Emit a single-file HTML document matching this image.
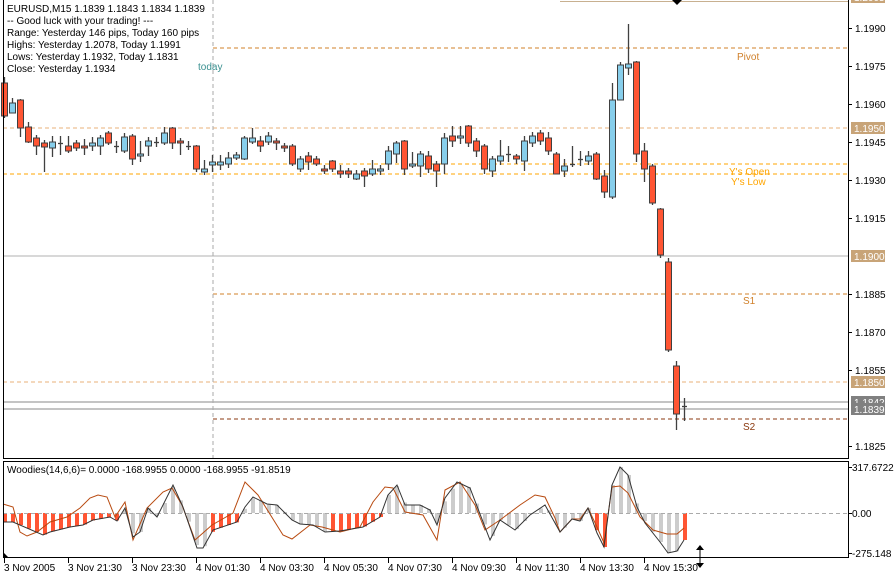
<!DOCTYPE html>
<html><head><meta charset="utf-8"><style>
body{margin:0;background:#fff;}
svg text{font-family:"Liberation Sans",sans-serif;font-size:10px;}
</style></head><body>
<svg id="s" width="894" height="574" xmlns="http://www.w3.org/2000/svg">
<rect width="894" height="574" fill="#fff"/>
<line x1="213" y1="48" x2="848" y2="48" stroke="#d0802a" stroke-dasharray="4,3"/>
<line x1="3" y1="128" x2="848" y2="128" stroke="#e8b07a" stroke-dasharray="4,3"/>
<line x1="213" y1="164" x2="848" y2="164" stroke="#ffa500" stroke-dasharray="4,3"/>
<line x1="3" y1="174" x2="848" y2="174" stroke="#ffa500" stroke-dasharray="4,3"/>
<line x1="3" y1="256" x2="848" y2="256" stroke="#b0b0b0"/>
<line x1="213" y1="294" x2="848" y2="294" stroke="#d0802a" stroke-dasharray="4,3"/>
<line x1="3" y1="382" x2="848" y2="382" stroke="#e8b07a" stroke-dasharray="4,3"/>
<line x1="3" y1="402" x2="848" y2="402" stroke="#888"/>
<line x1="3" y1="409" x2="848" y2="409" stroke="#888"/>
<line x1="213" y1="419" x2="848" y2="419" stroke="#8b3a10" stroke-dasharray="4,3"/>
<line x1="213" y1="0" x2="213" y2="458" stroke="#aaa" stroke-dasharray="4,3"/>
<text x="198" y="70" fill="#3a9090">today</text>
<text x="737" y="60" fill="#d0802a">Pivot</text>
<text x="729" y="175" fill="#ffa500">Y's Open</text>
<text x="731" y="185" fill="#ffa500">Y's Low</text>
<text x="743" y="304" fill="#d0802a">S1</text>
<text x="743" y="430" fill="#8b3a10">S2</text>
<g id="candles"></g>
<g id="ind"></g>
<text x="7" y="12" fill="#000">EURUSD,M15  1.1839 1.1843 1.1834 1.1839</text>
<text x="7" y="24" fill="#000">-- Good luck with your trading! ---</text>
<text x="7" y="36" fill="#000">Range: Yesterday 146 pips, Today 160 pips</text>
<text x="7" y="48" fill="#000">Highs: Yesterday 1.2078, Today 1.1991</text>
<text x="7" y="60" fill="#000">Lows:  Yesterday 1.1932, Today 1.1831</text>
<text x="7" y="72" fill="#000">Close: Yesterday 1.1934</text>
<text x="7" y="473" fill="#000">Woodies(14,6,6)=  0.0000 -168.9955 0.0000 -168.9955 -91.8519</text>
<line x1="560" y1="1.5" x2="848" y2="1.5" stroke="#c8b090"/>
<polygon points="672,0 682,0 677,5" fill="#000"/>
<rect x="3.5" y="-1" width="845" height="459.5" fill="none" stroke="#000"/>
<rect x="3.5" y="461.5" width="845" height="96" fill="none" stroke="#000"/>
<polygon points="3,552 3,558 9,558" fill="#000"/>
<line x1="700" y1="547" x2="700" y2="566" stroke="#000"/>
<polygon points="696,550 704,550 700,545" fill="#000"/>
<polygon points="696,563 704,563 700,568" fill="#000"/>
<g id="axis"></g>
</svg>
<script>
const NS="http://www.w3.org/2000/svg";
function el(p,t,a,txt){const e=document.createElementNS(NS,t);for(const k in a)e.setAttribute(k,a[k]);if(txt!=null)e.textContent=txt;p.appendChild(e);return e;}
const C=[[83,116,77,118],[113,103,98,113],[100,128,99,137],[127,142,122,143],[138,146,135,155],[143,147,140,172],[148,142,136,157],[143,143,136,155],[146,151,136,153],[143,148,140,151],[146,148,139,155],[146,143,137,151],[146,138,135,155],[133,143,131,145],[146,146,141,153],[151,137,133,153],[136,159,134,165],[156,154,141,162],[146,141,137,156],[142,142,137,147],[143,133,127,145],[128,143,127,149],[141,143,138,155],[146,146,141,150],[146,169,145,172],[172,169,160,175],[165,162,155,172],[165,162,155,170],[164,158,152,168],[158,155,152,160],[159,138,136,160],[142,138,128,144],[141,146,136,152],[142,136,132,145],[141,143,138,150],[146,148,143,152],[146,164,144,166],[169,159,156,172],[156,162,152,170],[159,164,156,166],[169,171,165,174],[161,169,160,172],[171,174,165,178],[171,174,168,178],[179,174,170,180],[171,176,168,187],[174,169,160,176],[171,169,165,175],[164,151,146,170],[154,143,141,163],[141,169,140,175],[166,164,152,168],[166,154,151,177],[156,169,151,173],[164,171,161,187],[164,138,133,174],[136,141,126,147],[138,136,126,144],[126,143,125,147],[141,151,138,157],[146,169,144,174],[171,159,156,177],[161,156,140,165],[154,154,146,162],[156,159,154,164],[161,141,136,171],[143,136,132,147],[133,141,130,145],[138,151,132,155],[154,174,152,174],[171,166,159,177],[164,164,146,167],[159,159,151,166],[161,156,151,165],[154,179,152,180],[176,192,170,198],[197,100,83,199],[100,65,62,100],[68,64,24,75],[62,154,61,162],[151,169,143,182],[166,203,164,205],[209,255,208,258],[262,350,258,352],[366,414,361,430],[406,406,398,421]];
const g=document.getElementById('candles');
C.forEach((c,i)=>{const x=4+8*i;const[o,cl,h,l]=c;
 el(g,'line',{x1:x+.5,y1:h,x2:x+.5,y2:l,stroke:'#404040','stroke-width':1.3});
 if(Math.abs(o-cl)<2){el(g,'line',{x1:x-2,y1:o+.5,x2:x+3,y2:o+.5,stroke:'#404040','stroke-width':1.3});}
 else{const t=Math.min(o,cl),b=Math.max(o,cl);el(g,'rect',{x:x-2.5,y:t,width:6,height:b-t,fill:cl>o?'#ff5533':'#87ceeb',stroke:'#404040','stroke-width':1});}
});
const ind=document.getElementById('ind');
const B=[[3,522],[13,522],[43,535],[50,532],[70,527],[83,525],[93,520],[110,517],[117,521],[125,508],[133,537],[140,532],[148,508],[157,517],[173,485],[183,507],[197,548],[203,548],[213,530],[237,522],[245,507],[253,497],[267,504],[277,505],[292,520],[300,524],[313,525],[325,532],[340,531],[363,527],[380,517],[388,495],[397,485],[405,505],[420,505],[430,510],[437,525],[445,498],[457,482],[470,488],[490,540],[500,520],[515,530],[530,515],[545,505],[560,532],[572,519],[580,521],[588,508],[597,533],[604,547],[612,485],[620,467],[628,475],[637,507],[645,523],[660,542],[668,553],[677,551],[684,540]];
const R=[[3,504],[13,507],[20,532],[27,536],[37,532],[50,522],[67,517],[80,508],[90,498],[98,495],[107,497],[115,517],[125,502],[133,540],[147,508],[163,492],[172,488],[182,505],[195,540],[212,525],[233,513],[245,482],[258,495],[283,535],[292,539],[310,525],[322,527],[340,532],[360,527],[373,502],[385,487],[393,488],[405,512],[423,515],[437,540],[445,490],[460,482],[475,505],[485,530],[500,520],[520,505],[535,495],[545,497],[555,518],[560,532],[572,519],[580,519],[588,508],[597,527],[604,543],[612,487],[620,486],[628,493],[640,517],[653,530],[667,534],[677,534],[684,528]];
function interp(P,x){for(let i=1;i<P.length;i++){if(x<=P[i][0]){const a=P[i-1],b=P[i];return a[1]+(b[1]-a[1])*(x-a[0])/(b[0]-a[0]);}}return P[P.length-1][1];}
const red=x=>(x<120)||(x>=207&&x<240)||(x>=330&&x<385)||(x>=595&&x<607)||(x>=682);
for(let i=0;i<86;i++){const x=4+8*i;const y=interp(B,x);const t=Math.min(y,513),h=Math.abs(y-513);
 el(ind,'rect',{x:x-1,y:t,width:4,height:Math.max(h,1),fill:red(x)?'#ff5533':'#cccccc'});}
el(ind,'line',{x1:3,y1:513.5,x2:848,y2:513.5,stroke:'#aaa','stroke-dasharray':'4,3'});
el(ind,'polyline',{points:R.map(p=>p.join(',')).join(' '),fill:'none',stroke:'#b84a10','stroke-width':1});
el(ind,'polyline',{points:B.map(p=>p.join(',')).join(' '),fill:'none',stroke:'#333','stroke-width':1});
const ax=document.getElementById('axis');
[[1.1990,28],[1.1975,66],[1.1960,104],[1.1945,142],[1.1930,180],[1.1915,218],[1.1885,294],[1.1870,332],[1.1855,370],[1.1825,446]].forEach(([v,y])=>{
 el(ax,'line',{x1:848,y1:y+.5,x2:852,y2:y+.5,stroke:'#000'});el(ax,'text',{x:855,y:y+4,fill:'#000'},v.toFixed(4));});
[['1.2005',-3,'#c8a478'],['1.1950',128,'#c8a478'],['1.1900',256,'#c8a478'],['1.1850',382,'#c8a478'],['1.1842',402,'#808080'],['1.1839',409,'#808080']].forEach(([v,y,c])=>{
 el(ax,'rect',{x:851,y:y-6,width:34,height:12,fill:c});el(ax,'text',{x:854,y:y+4,fill:'#fff'},v);});
[['317.6722',467],['0.00',513],['-275.148',553]].forEach(([v,y])=>{el(ax,'line',{x1:848,y1:y+.5,x2:852,y2:y+.5,stroke:'#000'});el(ax,'text',{x:852,y:y+4,fill:'#000'},v);});
['3 Nov 2005','3 Nov 21:30','3 Nov 23:30','4 Nov 01:30','4 Nov 03:30','4 Nov 05:30','4 Nov 07:30','4 Nov 09:30','4 Nov 11:30','4 Nov 13:30','4 Nov 15:30'].forEach((t,i)=>{
 const x=4+64*i;el(ax,'line',{x1:x+.5,y1:558,x2:x+.5,y2:563,stroke:'#000'});el(ax,'text',{x:x,y:571,fill:'#000'},t);});
</script>
</body></html>
